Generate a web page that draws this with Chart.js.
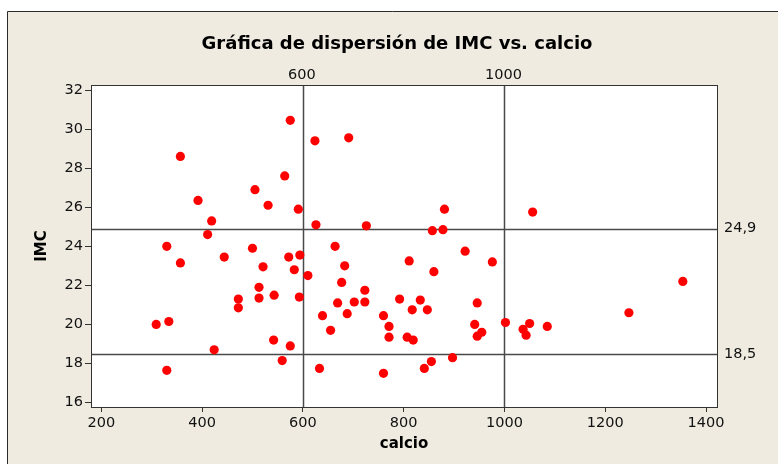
<!DOCTYPE html>
<html>
<head>
<meta charset="utf-8">
<script src="https://cdn.jsdelivr.net/npm/chart.js@4.4.0/dist/chart.umd.min.js"></script>
<style>
	html, body { margin: 0; padding: 0; background: #fff; }
	canvas { display: block; }
</style>
</head>
<body>
<canvas id="chart" width="778" height="464"></canvas>
<script>
const calcio = [
	357, 392, 419, 411, 505, 531, 564, 575, 591, 624, 626, 691, 726, 881, 857, 878,
	1056, 330, 357, 444, 500, 521, 513, 513, 472, 472, 543, 572, 594, 583, 610, 593,
	309, 334, 330, 424, 542, 575, 559, 633, 639, 655, 664, 683, 677, 669, 702, 688,
	723, 723, 792, 760, 771, 771, 760, 811, 922, 976, 860, 833, 817, 847, 946, 941,
	946, 955, 807, 819, 1002, 1037, 1050, 1043, 1085, 1247, 1354, 897, 855, 841,
]
const imc = [
	28.6, 26.35, 25.3, 24.6, 26.9, 26.1, 27.6, 30.45, 25.9, 29.4, 25.1, 29.55, 25.05, 25.9, 24.8, 24.85,
	25.75, 24.0, 23.15, 23.45, 23.9, 22.95, 21.9, 21.35, 21.3, 20.85, 21.5, 23.45, 23.55, 22.8, 22.5, 21.4,
	20.0, 20.15, 17.65, 18.7, 19.2, 18.9, 18.15, 17.75, 20.45, 19.7, 24.0, 23.0, 22.15, 21.1, 21.15, 20.55,
	21.75, 21.15, 21.3, 20.45, 19.9, 19.35, 17.5, 23.25, 23.75, 23.2, 22.7, 21.25, 20.75, 20.75, 21.1, 20.0,
	19.4, 19.6, 19.35, 19.2, 20.1, 19.75, 20.05, 19.45, 19.9, 20.6, 22.2, 18.3, 18.1, 17.75,
]
const x_ticks = [200, 400, 600, 800, 1000, 1200, 1400]
const y_ticks = [16, 18, 20, 22, 24, 26, 28, 30, 32]
const x_ref = [600, 1000]
const y_ref = [24.9, 18.5]
const y_ref_labels = ['24,9', '18,5']

const title_text = 'Gráfica de dispersión de IMC vs. calcio'
const x_title = 'calcio'
const y_title = 'IMC'

const BEIGE = '#efebe1'
const AXIS = '#333333'
const FONT = '"DejaVu Sans", Verdana, sans-serif'

const frame_plugin = {
	id: 'frame',
	beforeDraw (chart) {
		const { ctx, chartArea: a, width, height } = chart
		ctx.save()
		ctx.fillStyle = '#ffffff'
		ctx.fillRect(0, 0, width, height)
		ctx.fillStyle = BEIGE
		ctx.fillRect(7, 11, width, height)
		ctx.strokeStyle = '#2b2b2b'
		ctx.lineWidth = 1
		ctx.beginPath()
		ctx.moveTo(7.5, height)
		ctx.lineTo(7.5, 11.5)
		ctx.lineTo(width, 11.5)
		ctx.stroke()
		ctx.fillStyle = '#ffffff'
		ctx.fillRect(a.left, a.top, a.right - a.left, a.bottom - a.top)
		ctx.restore()
	},
	beforeDatasetsDraw (chart) {
		const { ctx, chartArea: a, scales } = chart
		ctx.save()
		ctx.strokeStyle = '#4a4a4a'
		ctx.lineWidth = 1.5
		for (const v of x_ref) {
			const px = Math.round(scales.x.getPixelForValue(v)) + 0.5
			ctx.beginPath()
			ctx.moveTo(px, a.top)
			ctx.lineTo(px, a.bottom)
			ctx.stroke()
		}
		for (const v of y_ref) {
			const py = Math.round(scales.y.getPixelForValue(v)) + 0.5
			ctx.beginPath()
			ctx.moveTo(a.left, py)
			ctx.lineTo(a.right, py)
			ctx.stroke()
		}
		ctx.strokeStyle = AXIS
		ctx.lineWidth = 1
		ctx.strokeRect(Math.round(a.left) + 0.5, Math.round(a.top) + 0.5,
			Math.round(a.right - a.left), Math.round(a.bottom - a.top))
		ctx.restore()
	},
	afterDraw (chart) {
		const { ctx, chartArea: a, scales } = chart
		ctx.save()
		ctx.fillStyle = '#000000'
		ctx.textAlign = 'center'
		ctx.textBaseline = 'middle'
		ctx.font = 'bold 18px ' + FONT
		ctx.fillText(title_text, 397, 44)

		ctx.font = '14.5px ' + FONT
		ctx.fillStyle = '#111111'
		for (const v of x_ref) {
			ctx.fillText(String(v), scales.x.getPixelForValue(v) - 1, a.top - 10)
		}
		ctx.textAlign = 'left'
		y_ref.forEach(function (v, idx) {
			ctx.fillText(y_ref_labels[idx], a.right + 7, scales.y.getPixelForValue(v))
		})

		ctx.fillStyle = '#000000'
		ctx.textAlign = 'center'
		ctx.font = 'bold 15px ' + FONT
		ctx.fillText(x_title, (a.left + a.right) / 2, 444)
		ctx.translate(42, (a.top + a.bottom) / 2)
		ctx.rotate(-Math.PI / 2)
		ctx.fillText(y_title, 0, 0)
		ctx.restore()
	},
}

const ctx = document.getElementById('chart').getContext('2d')
const chart = new Chart(ctx, {
	type: 'scatter',
	data: {
		datasets: [
			{
				label: 'IMC',
				data: calcio.map((c, idx) => ({ x: c, y: imc[idx] })),
				backgroundColor: '#ff0000',
				borderColor: '#ff0000',
				borderWidth: 0,
				pointRadius: 4.6,
				pointHoverRadius: 4.6,
			},
		],
	},
	options: {
		responsive: false,
		animation: false,
		devicePixelRatio: 1,
		layout: { padding: { top: 85, right: 61, left: 0, bottom: 0 } },
		plugins: {
			legend: { display: false },
			title: { display: false },
			tooltip: { enabled: false },
		},
		scales: {
			x: {
				type: 'linear',
				min: 179.6,
				max: 1421.8,
				afterBuildTicks (scale) {
					scale.ticks = x_ticks.map(v => ({ value: v }))
				},
				afterFit (scale) {
					scale.height = 57
				},
				grid: {
					drawOnChartArea: false,
					drawTicks: true,
					tickLength: 5,
					color: AXIS,
				},
				border: { display: true, color: AXIS, width: 1 },
				ticks: {
					padding: 3,
					color: '#111111',
					font: { family: FONT, size: 14.5 },
					callback: v => String(v),
				},
			},
			y: {
				type: 'linear',
				min: 15.775,
				max: 32.256,
				afterBuildTicks (scale) {
					scale.ticks = y_ticks.map(v => ({ value: v }))
				},
				afterFit (scale) {
					scale.width = 91
				},
				grid: {
					drawOnChartArea: false,
					drawTicks: true,
					tickLength: 6,
					color: AXIS,
				},
				border: { display: true, color: AXIS, width: 1 },
				ticks: {
					padding: 2,
					color: '#111111',
					font: { family: FONT, size: 14.5 },
					callback: v => String(v),
				},
			},
		},
	},
	plugins: [frame_plugin],
})
</script>
</body>
</html>
